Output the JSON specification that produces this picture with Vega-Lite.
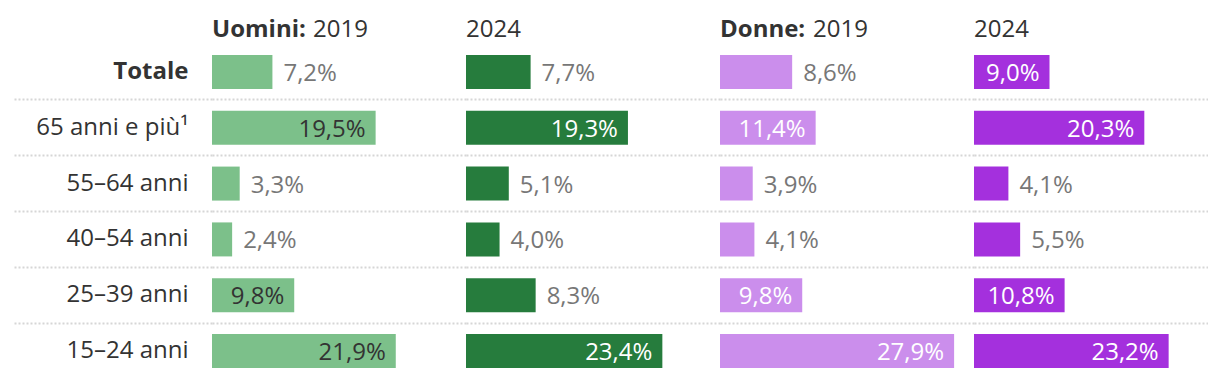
{
  "$schema": "https://vega.github.io/schema/vega-lite/v6.json",
  "autosize": {"type": "pad"},
  "padding": {"left": 11, "top": 17, "right": 0, "bottom": 0},
  "background": "white",
  "bounds": "flush",
  "spacing": 0,
  "data": {"values": [
    {"group": "Totale", "panel": "U2019", "v": 7.2},
    {"group": "Totale", "panel": "U2024", "v": 7.7},
    {"group": "Totale", "panel": "D2019", "v": 8.6},
    {"group": "Totale", "panel": "D2024", "v": 9.0},
    {"group": "65 anni e più¹", "panel": "U2019", "v": 19.5},
    {"group": "65 anni e più¹", "panel": "U2024", "v": 19.3},
    {"group": "65 anni e più¹", "panel": "D2019", "v": 11.4},
    {"group": "65 anni e più¹", "panel": "D2024", "v": 20.3},
    {"group": "55–64 anni", "panel": "U2019", "v": 3.3},
    {"group": "55–64 anni", "panel": "U2024", "v": 5.1},
    {"group": "55–64 anni", "panel": "D2019", "v": 3.9},
    {"group": "55–64 anni", "panel": "D2024", "v": 4.1},
    {"group": "40–54 anni", "panel": "U2019", "v": 2.4},
    {"group": "40–54 anni", "panel": "U2024", "v": 4.0},
    {"group": "40–54 anni", "panel": "D2019", "v": 4.1},
    {"group": "40–54 anni", "panel": "D2024", "v": 5.5},
    {"group": "25–39 anni", "panel": "U2019", "v": 9.8},
    {"group": "25–39 anni", "panel": "U2024", "v": 8.3},
    {"group": "25–39 anni", "panel": "D2019", "v": 9.8},
    {"group": "25–39 anni", "panel": "D2024", "v": 10.8},
    {"group": "15–24 anni", "panel": "U2019", "v": 21.9},
    {"group": "15–24 anni", "panel": "U2024", "v": 23.4},
    {"group": "15–24 anni", "panel": "D2019", "v": 27.9},
    {"group": "15–24 anni", "panel": "D2024", "v": 23.2}
  ]},
  "resolve": {"scale": {"x": "independent", "y": "independent"}},
  "hconcat": [
    {
      "width": 254, "height": 335,
      "transform": [{"filter": "datum.panel === 'U2019'"}],
      "encoding": {
        "y": {"field": "group", "type": "nominal",
          "scale": {"domain": ["Totale", "65 anni e più¹", "55–64 anni", "40–54 anni", "25–39 anni", "15–24 anni"], "paddingInner": 0, "paddingOuter": 0},
          "axis": {"title": null, "domain": false, "ticks": true, "tickSize": 200, "tickColor": "#d6d6d6", "tickWidth": 2, "tickDash": [2, 2],
            "tickOpacity": {"condition": {"test": "datum.value === 'Totale'", "value": 0}, "value": 1},
            "bandPosition": 0, "grid": true, "gridColor": "#d6d6d6", "gridWidth": 2, "gridDash": [2, 2],
            "gridOpacity": {"condition": {"test": "datum.value === 'Totale'", "value": 0}, "value": 1},
            "labelPadding": -176, "labelFont": "Open Sans", "labelFontSize": 24, "labelColor": "#333333",
            "labelFontWeight": {"condition": {"test": "datum.value === 'Totale'", "value": "bold"}, "value": "normal"},
            "labelBaseline": "alphabetic", "labelOffset": 7, "labelLimit": 300}},
        "x": {"field": "v", "type": "quantitative", "scale": {"domain": [0, 30.27], "nice": false}, "axis": null}
      },
      "layer": [
        {"mark": {"type": "bar", "height": 34, "color": "#7cc08a"}},
        {"transform": [{"filter": "datum.v < 8.8"}],
          "mark": {"type": "text", "align": "left", "baseline": "alphabetic", "dx": 11, "dy": 9, "font": "Open Sans", "fontSize": 24, "color": "#777777"},
          "encoding": {"text": {"field": "v", "type": "quantitative", "format": "$.1f"}}},
        {"transform": [{"filter": "datum.v >= 8.8"}],
          "mark": {"type": "text", "align": "right", "baseline": "alphabetic", "dx": -10, "dy": 9, "font": "Open Sans", "fontSize": 24, "color": "#333333"},
          "encoding": {"text": {"field": "v", "type": "quantitative", "format": "$.1f"}}},
        {"transform": [{"filter": "datum.group === 'Totale'"}],
          "mark": {"type": "text", "align": "left", "baseline": "alphabetic", "dy": -35, "font": "Open Sans", "fontSize": 24, "fontWeight": "bold", "color": "#333333"},
          "encoding": {"x": {"datum": 0}, "text": {"value": "Uomini:"}}},
        {"transform": [{"filter": "datum.group === 'Totale'"}],
          "mark": {"type": "text", "align": "left", "baseline": "alphabetic", "dx": 101, "dy": -35, "font": "Open Sans", "fontSize": 24, "color": "#333333"},
          "encoding": {"x": {"datum": 0}, "text": {"value": "2019"}}}
      ]
    },
    {
      "width": 254, "height": 335,
      "transform": [{"filter": "datum.panel === 'U2024'"}],
      "encoding": {
        "y": {"field": "group", "type": "nominal",
          "scale": {"domain": ["Totale", "65 anni e più¹", "55–64 anni", "40–54 anni", "25–39 anni", "15–24 anni"], "paddingInner": 0, "paddingOuter": 0},
          "axis": {"title": null, "domain": false, "ticks": false, "labels": false, "bandPosition": 0, "grid": true, "gridColor": "#d6d6d6", "gridWidth": 2, "gridDash": [2, 2],
            "gridOpacity": {"condition": {"test": "datum.value === 'Totale'", "value": 0}, "value": 1}}},
        "x": {"field": "v", "type": "quantitative", "scale": {"domain": [0, 30.27], "nice": false}, "axis": null}
      },
      "layer": [
        {"mark": {"type": "bar", "height": 34, "color": "#267c3d"}},
        {"transform": [{"filter": "datum.v < 8.8"}],
          "mark": {"type": "text", "align": "left", "baseline": "alphabetic", "dx": 11, "dy": 9, "font": "Open Sans", "fontSize": 24, "color": "#777777"},
          "encoding": {"text": {"field": "v", "type": "quantitative", "format": "$.1f"}}},
        {"transform": [{"filter": "datum.v >= 8.8"}],
          "mark": {"type": "text", "align": "right", "baseline": "alphabetic", "dx": -10, "dy": 9, "font": "Open Sans", "fontSize": 24, "color": "#ffffff"},
          "encoding": {"text": {"field": "v", "type": "quantitative", "format": "$.1f"}}},
        {"transform": [{"filter": "datum.group === 'Totale'"}],
          "mark": {"type": "text", "align": "left", "baseline": "alphabetic", "dy": -35, "font": "Open Sans", "fontSize": 24, "color": "#333333"},
          "encoding": {"x": {"datum": 0}, "text": {"value": "2024"}}}
      ]
    },
    {
      "width": 254, "height": 335,
      "transform": [{"filter": "datum.panel === 'D2019'"}],
      "encoding": {
        "y": {"field": "group", "type": "nominal",
          "scale": {"domain": ["Totale", "65 anni e più¹", "55–64 anni", "40–54 anni", "25–39 anni", "15–24 anni"], "paddingInner": 0, "paddingOuter": 0},
          "axis": {"title": null, "domain": false, "ticks": false, "labels": false, "bandPosition": 0, "grid": true, "gridColor": "#d6d6d6", "gridWidth": 2, "gridDash": [2, 2],
            "gridOpacity": {"condition": {"test": "datum.value === 'Totale'", "value": 0}, "value": 1}}},
        "x": {"field": "v", "type": "quantitative", "scale": {"domain": [0, 30.27], "nice": false}, "axis": null}
      },
      "layer": [
        {"mark": {"type": "bar", "height": 34, "color": "#cb8eec"}},
        {"transform": [{"filter": "datum.v < 8.8"}],
          "mark": {"type": "text", "align": "left", "baseline": "alphabetic", "dx": 11, "dy": 9, "font": "Open Sans", "fontSize": 24, "color": "#777777"},
          "encoding": {"text": {"field": "v", "type": "quantitative", "format": "$.1f"}}},
        {"transform": [{"filter": "datum.v >= 8.8"}],
          "mark": {"type": "text", "align": "right", "baseline": "alphabetic", "dx": -10, "dy": 9, "font": "Open Sans", "fontSize": 24, "color": "#ffffff"},
          "encoding": {"text": {"field": "v", "type": "quantitative", "format": "$.1f"}}},
        {"transform": [{"filter": "datum.group === 'Totale'"}],
          "mark": {"type": "text", "align": "left", "baseline": "alphabetic", "dy": -35, "font": "Open Sans", "fontSize": 24, "fontWeight": "bold", "color": "#333333"},
          "encoding": {"x": {"datum": 0}, "text": {"value": "Donne:"}}},
        {"transform": [{"filter": "datum.group === 'Totale'"}],
          "mark": {"type": "text", "align": "left", "baseline": "alphabetic", "dx": 93, "dy": -35, "font": "Open Sans", "fontSize": 24, "color": "#333333"},
          "encoding": {"x": {"datum": 0}, "text": {"value": "2019"}}}
      ]
    },
    {
      "width": 234, "height": 335,
      "transform": [{"filter": "datum.panel === 'D2024'"}],
      "encoding": {
        "y": {"field": "group", "type": "nominal",
          "scale": {"domain": ["Totale", "65 anni e più¹", "55–64 anni", "40–54 anni", "25–39 anni", "15–24 anni"], "paddingInner": 0, "paddingOuter": 0},
          "axis": {"title": null, "domain": false, "ticks": false, "labels": false, "bandPosition": 0, "grid": true, "gridColor": "#d6d6d6", "gridWidth": 2, "gridDash": [2, 2],
            "gridOpacity": {"condition": {"test": "datum.value === 'Totale'", "value": 0}, "value": 1}}},
        "x": {"field": "v", "type": "quantitative", "scale": {"domain": [0, 27.89], "nice": false}, "axis": null}
      },
      "layer": [
        {"mark": {"type": "bar", "height": 34, "color": "#a430dd"}},
        {"transform": [{"filter": "datum.v < 8.8"}],
          "mark": {"type": "text", "align": "left", "baseline": "alphabetic", "dx": 11, "dy": 9, "font": "Open Sans", "fontSize": 24, "color": "#777777"},
          "encoding": {"text": {"field": "v", "type": "quantitative", "format": "$.1f"}}},
        {"transform": [{"filter": "datum.v >= 8.8"}],
          "mark": {"type": "text", "align": "right", "baseline": "alphabetic", "dx": -10, "dy": 9, "font": "Open Sans", "fontSize": 24, "color": "#ffffff"},
          "encoding": {"text": {"field": "v", "type": "quantitative", "format": "$.1f"}}},
        {"transform": [{"filter": "datum.group === 'Totale'"}],
          "mark": {"type": "text", "align": "left", "baseline": "alphabetic", "dy": -35, "font": "Open Sans", "fontSize": 24, "color": "#333333"},
          "encoding": {"x": {"datum": 0}, "text": {"value": "2024"}}}
      ]
    }
  ],
  "config": {
    "view": {"stroke": null},
    "locale": {"number": {"decimal": ",", "thousands": ".", "grouping": [3], "currency": ["", "%"]}}
  }
}
